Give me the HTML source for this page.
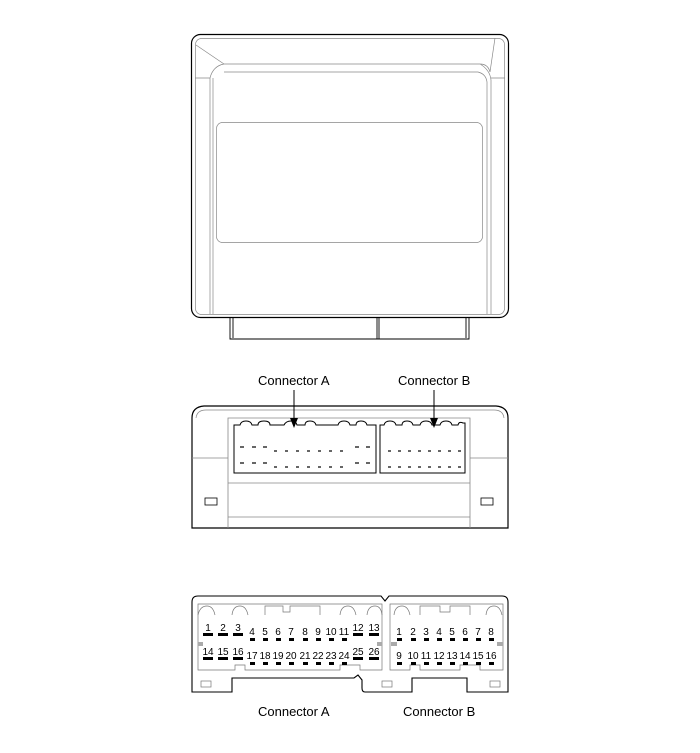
<!DOCTYPE html>
<html><head><meta charset="utf-8"><style>
html,body{margin:0;padding:0;background:#fff;}
svg{display:block;font-family:"Liberation Sans",Arial,sans-serif;}
</style></head><body>
<svg width="700" height="753" viewBox="0 0 700 753" xmlns="http://www.w3.org/2000/svg">
<g fill="none" stroke="#000">
<!-- Top unit -->
<rect x="191.5" y="34.5" width="317" height="283" rx="9" stroke-width="1.2"/>
<rect x="195.5" y="38.5" width="309" height="276" rx="6" stroke="#888" stroke-width="0.7"/>
<path d="M224 64 H480 Q488 64 490 72 L495 38 M224 64 L196 45 M224 64 Q213 66 210 78 V314 M480 64 Q490 70 491 80 V314 M224 72 H478 Q486 74 487 82 M487 82 V314 M213 78 V314 M195 78 H210 M491 78 H505" stroke="#888" stroke-width="0.7"/>
<rect x="216.5" y="122.5" width="266" height="120" rx="6" stroke="#888" stroke-width="0.7"/>
<path d="M230 318 V339 H469 V318 M233 318 V338 M466 318 V338 M377 318 V339 M379 318 V339" stroke-width="0.9"/>
<!-- Middle view -->
<path d="M192 528 V418 Q192 407 204 406 H496 Q508 407 508 418 V528 Z" stroke-width="1.2"/>
<path d="M196 418 Q197 410 206 410 H494 Q503 410 504 418 M192 458 H228 M470 458 H508" stroke="#888" stroke-width="0.7"/>
<path d="M228 528 V418 H470 V528 M228 483 H470 M228 517 H470" stroke="#888" stroke-width="0.8"/>
<path d="M234 473 V425 H240 Q241 421 246 421 Q251 421 252 425 H258 Q258 421 264 421 Q270 421 270 425 H284 Q286 421 291 421 Q296 421 297 425 H305 Q305 421 310 421 Q315 421 316 425 H338 Q339 421 344 421 Q349 421 350 425 H356 Q356 421 361 421 Q366 421 367 425 H376 V473 Z" stroke-width="1"/>
<path d="M380 473 V425 H384 Q385 421 390 421 Q395 421 396 425 H402 Q402 421 407 421 Q412 421 413 425 H420 Q421 421 426 421 Q431 421 432 425 H440 Q441 421 446 421 Q451 421 452 425 H458 Q459 421 463 423 H465 V473 Z" stroke-width="1"/>
<rect x="205" y="498" width="12" height="7" stroke-width="0.8"/>
<rect x="481" y="498" width="12" height="7" stroke-width="0.8"/>
<!-- Arrows -->
<path d="M294 390 V420 M434 390 V420" stroke-width="1"/>
</g>
<g fill="#000">
<path d="M290 418 L298 418 L294 428 Z M430 418 L438 418 L434 428 Z"/>
</g>
<g fill="#666">
<rect x="240" y="446" width="4" height="2"/><rect x="252" y="446" width="4" height="2"/><rect x="263" y="446" width="4" height="2"/>
<rect x="240" y="462" width="4" height="2"/><rect x="252" y="462" width="4" height="2"/><rect x="263" y="462" width="4" height="2"/>
<rect x="274" y="450" width="3" height="2"/><rect x="285" y="450" width="3" height="2"/><rect x="296" y="450" width="3" height="2"/><rect x="307" y="450" width="3" height="2"/><rect x="318" y="450" width="3" height="2"/><rect x="329" y="450" width="3" height="2"/><rect x="340" y="450" width="3" height="2"/>
<rect x="274" y="466" width="3" height="2"/><rect x="285" y="466" width="3" height="2"/><rect x="296" y="466" width="3" height="2"/><rect x="307" y="466" width="3" height="2"/><rect x="318" y="466" width="3" height="2"/><rect x="329" y="466" width="3" height="2"/><rect x="340" y="466" width="3" height="2"/>
<rect x="355" y="446" width="4" height="2"/><rect x="366" y="446" width="4" height="2"/><rect x="355" y="462" width="4" height="2"/><rect x="366" y="462" width="4" height="2"/>
<rect x="388" y="450" width="3" height="2"/><rect x="398" y="450" width="3" height="2"/><rect x="408" y="450" width="3" height="2"/><rect x="418" y="450" width="3" height="2"/><rect x="428" y="450" width="3" height="2"/><rect x="438" y="450" width="3" height="2"/><rect x="448" y="450" width="3" height="2"/><rect x="458" y="450" width="3" height="2"/>
<rect x="388" y="466" width="3" height="2"/><rect x="398" y="466" width="3" height="2"/><rect x="408" y="466" width="3" height="2"/><rect x="418" y="466" width="3" height="2"/><rect x="428" y="466" width="3" height="2"/><rect x="438" y="466" width="3" height="2"/><rect x="448" y="466" width="3" height="2"/><rect x="458" y="466" width="3" height="2"/>
</g>
<g font-size="13" fill="#000">
<text x="258" y="385">Connector A</text>
<text x="398" y="385">Connector B</text>
<text x="258" y="716">Connector A</text>
<text x="403" y="716">Connector B</text>
</g>
<!-- Bottom face -->
<g fill="none" stroke="#000">
<path d="M192 692 V602 Q192 596 198 596 H381 L385 601 L389 596 H502 Q508 596 508 602 V692 H467 V678 H412 V692 H365 Q362 692 362 688 V680 L358 675 L354 678 H232 V692 Z" stroke-width="1.1"/>
<path d="M198 604 H382 V670 H360 V665 H340 V670 H245 V665 H235 V670 H198 Z" stroke="#777" stroke-width="0.7"/>
<path d="M390 604 H503 V670 H480 V665 H460 V670 H420 V665 H410 V670 H390 Z" stroke="#777" stroke-width="0.7"/>
<path d="M198 615 Q200 606 207 606 Q213 606 215 615 M232 615 Q233 606 240 606 Q246 606 248 615 M265 615 V606 H283 V612 H290 V606 H320 V615 M340 615 Q341 606 348 606 Q354 606 356 615 M367 615 Q368 606 375 606 Q381 606 382 615 M394 615 Q395 606 402 606 Q408 606 410 615 M420 615 V606 H440 V612 H450 V606 H470 V615 M486 615 Q487 606 494 606 Q500 606 502 615" stroke="#777" stroke-width="0.7"/>
<rect x="201" y="681" width="10" height="6" stroke="#777" stroke-width="0.7"/>
<rect x="382" y="681" width="10" height="6" stroke="#777" stroke-width="0.7"/>
<rect x="490" y="681" width="10" height="6" stroke="#777" stroke-width="0.7"/>
</g>
<g fill="#aaa"><rect x="198" y="642" width="5" height="4"/><rect x="377" y="642" width="5" height="4"/><rect x="391" y="642" width="6" height="4"/><rect x="497" y="642" width="6" height="4"/></g>
<g font-size="10" fill="#000" text-anchor="middle">
<text x="208" y="631">1</text><text x="223" y="631">2</text><text x="238" y="631">3</text>
<text x="252" y="635">4</text><text x="265" y="635">5</text><text x="278" y="635">6</text><text x="291" y="635">7</text><text x="305" y="635">8</text><text x="318" y="635">9</text><text x="331" y="635">10</text><text x="344" y="635">11</text>
<text x="358" y="631">12</text><text x="374" y="631">13</text>
<text x="208" y="655">14</text><text x="223" y="655">15</text><text x="238" y="655">16</text>
<text x="252" y="659">17</text><text x="265" y="659">18</text><text x="278" y="659">19</text><text x="291" y="659">20</text><text x="305" y="659">21</text><text x="318" y="659">22</text><text x="331" y="659">23</text><text x="344" y="659">24</text>
<text x="358" y="655">25</text><text x="374" y="655">26</text>
<text x="399" y="635">1</text><text x="413" y="635">2</text><text x="426" y="635">3</text><text x="439" y="635">4</text><text x="452" y="635">5</text><text x="465" y="635">6</text><text x="478" y="635">7</text><text x="491" y="635">8</text>
<text x="399" y="659">9</text><text x="413" y="659">10</text><text x="426" y="659">11</text><text x="439" y="659">12</text><text x="452" y="659">13</text><text x="465" y="659">14</text><text x="478" y="659">15</text><text x="491" y="659">16</text>
</g>
<g fill="#000">
<rect x="203" y="633" width="10" height="3"/><rect x="218" y="633" width="10" height="3"/><rect x="233" y="633" width="10" height="3"/>
<rect x="353" y="633" width="10" height="3"/><rect x="369" y="633" width="10" height="3"/>
<rect x="250" y="638" width="5" height="3"/><rect x="263" y="638" width="5" height="3"/><rect x="276" y="638" width="5" height="3"/><rect x="289" y="638" width="5" height="3"/><rect x="303" y="638" width="5" height="3"/><rect x="316" y="638" width="5" height="3"/><rect x="329" y="638" width="5" height="3"/><rect x="342" y="638" width="5" height="3"/>
<rect x="203" y="657" width="10" height="3"/><rect x="218" y="657" width="10" height="3"/><rect x="233" y="657" width="10" height="3"/>
<rect x="353" y="657" width="10" height="3"/><rect x="369" y="657" width="10" height="3"/>
<rect x="250" y="662" width="5" height="3"/><rect x="263" y="662" width="5" height="3"/><rect x="276" y="662" width="5" height="3"/><rect x="289" y="662" width="5" height="3"/><rect x="303" y="662" width="5" height="3"/><rect x="316" y="662" width="5" height="3"/><rect x="329" y="662" width="5" height="3"/><rect x="342" y="662" width="5" height="3"/>
<rect x="397" y="638" width="5" height="3"/><rect x="411" y="638" width="5" height="3"/><rect x="424" y="638" width="5" height="3"/><rect x="437" y="638" width="5" height="3"/><rect x="450" y="638" width="5" height="3"/><rect x="463" y="638" width="5" height="3"/><rect x="476" y="638" width="5" height="3"/><rect x="489" y="638" width="5" height="3"/>
<rect x="397" y="662" width="5" height="3"/><rect x="411" y="662" width="5" height="3"/><rect x="424" y="662" width="5" height="3"/><rect x="437" y="662" width="5" height="3"/><rect x="450" y="662" width="5" height="3"/><rect x="463" y="662" width="5" height="3"/><rect x="476" y="662" width="5" height="3"/><rect x="489" y="662" width="5" height="3"/>
</g>
</svg>
</body></html>
